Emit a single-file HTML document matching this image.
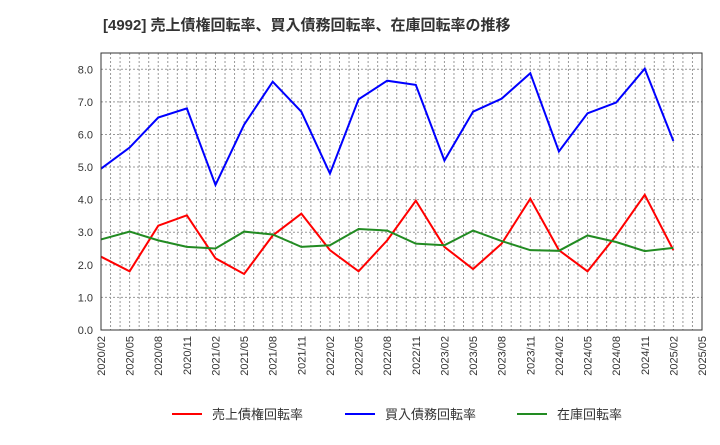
<!DOCTYPE html>
<html><head><meta charset="utf-8"><style>
body{margin:0;background:#fff;width:720px;height:440px;overflow:hidden}
text{font-family:"Liberation Sans","Noto Sans CJK JP",sans-serif}
</style></head><body>
<svg id="c" width="720" height="440">
<text x="103" y="30" font-size="15" font-weight="bold" fill="#333">[4992]  売上債権回転率、買入債務回転率、在庫回転率の推移</text>
<g id="grid"></g><g id="series"></g>
<rect x="101" y="53" width="601" height="277" fill="none" stroke="#333"/>
<g id="legend"></g>
</svg>
<script>
const months=["2020/02","2020/05","2020/08","2020/11","2021/02","2021/05","2021/08","2021/11","2022/02","2022/05","2022/08","2022/11","2023/02","2023/05","2023/08","2023/11","2024/02","2024/05","2024/08","2024/11","2025/02"];
const tickLabels=["2020/02","2020/05","2020/08","2020/11","2021/02","2021/05","2021/08","2021/11","2022/02","2022/05","2022/08","2022/11","2023/02","2023/05","2023/08","2023/11","2024/02","2024/05","2024/08","2024/11","2025/02","2025/05"];
const yTicks=[0,1,2,3,4,5,6,7,8];
const receivables=[2.25,1.8,3.2,3.52,2.2,1.72,2.9,3.57,2.45,1.8,2.75,3.97,2.55,1.87,2.65,4.03,2.45,1.8,2.9,4.15,2.45];
const payables=[4.95,5.6,6.52,6.8,4.45,6.3,7.62,6.7,4.8,7.08,7.65,7.52,5.2,6.7,7.1,7.88,5.48,6.65,6.98,8.02,5.8];
const inventory=[2.78,3.02,2.75,2.55,2.5,3.02,2.93,2.55,2.6,3.1,3.05,2.65,2.6,3.05,2.73,2.45,2.43,2.9,2.7,2.42,2.52];
const NS="http://www.w3.org/2000/svg";
const X0=101,X1=702,Y0=330,Y1=53,YMAX=8.5,NM=63;
function mIndex(lbl){const[y,m]=lbl.split("/").map(Number);return (y-2020)*12+(m-2);}
function x(lbl){return X0+(X1-X0)*mIndex(lbl)/NM;}
function y(v){return Y0-(Y0-Y1)*v/YMAX;}
function mk(t,a,p){const e=document.createElementNS(NS,t);for(const k in a)e.setAttribute(k,a[k]);p.appendChild(e);return e;}
const grid=document.getElementById("grid");
for(let i=1;i<NM;i++){const gx=X0+(X1-X0)*i/NM;
const l=mk("line",{x1:gx,x2:gx,y1:Y1,y2:Y0,stroke:"#999","stroke-dasharray":"2,2","stroke-width":1},grid);

}
yTicks.forEach(v=>{const gy=y(v);
const l=mk("line",{x1:X0,x2:X1,y1:gy,y2:gy,stroke:"#999","stroke-dasharray":"2,2","stroke-width":1},grid);


const t=mk("text",{x:X0-8,y:gy+4,"text-anchor":"end","font-size":11,fill:"#333"},grid);t.textContent=v.toFixed(1);

});
tickLabels.forEach(lbl=>{const tx=x(lbl);
const t=mk("text",{x:0,y:0,"text-anchor":"end","font-size":11,fill:"#333",transform:`translate(${tx+4},336) rotate(-90)`},grid);t.textContent=lbl;

});
const ser=document.getElementById("series");
[[receivables,"#ff0000","receivables-turnover-line"],[payables,"#0000ff","payables-turnover-line"],[inventory,"#228b22","inventory-turnover-line"]].forEach(([d,c,n])=>{
const p=mk("polyline",{points:d.map((v,i)=>x(months[i])+","+y(v)).join(" "),fill:"none",stroke:c,"stroke-width":2},ser);

});
const leg=document.getElementById("legend");
[["売上債権回転率","#ff0000",172],["買入債務回転率","#0000ff",345],["在庫回転率","#228b22",517]].forEach(([t,c,lx])=>{
const g=mk("g",{},leg);


mk("line",{x1:lx,x2:lx+30,y1:414,y2:414,stroke:c,"stroke-width":2},g);
const tx=mk("text",{x:lx+40,y:419,"font-size":13,fill:"#333"},g);tx.textContent=t;});
</script>
</body></html>
